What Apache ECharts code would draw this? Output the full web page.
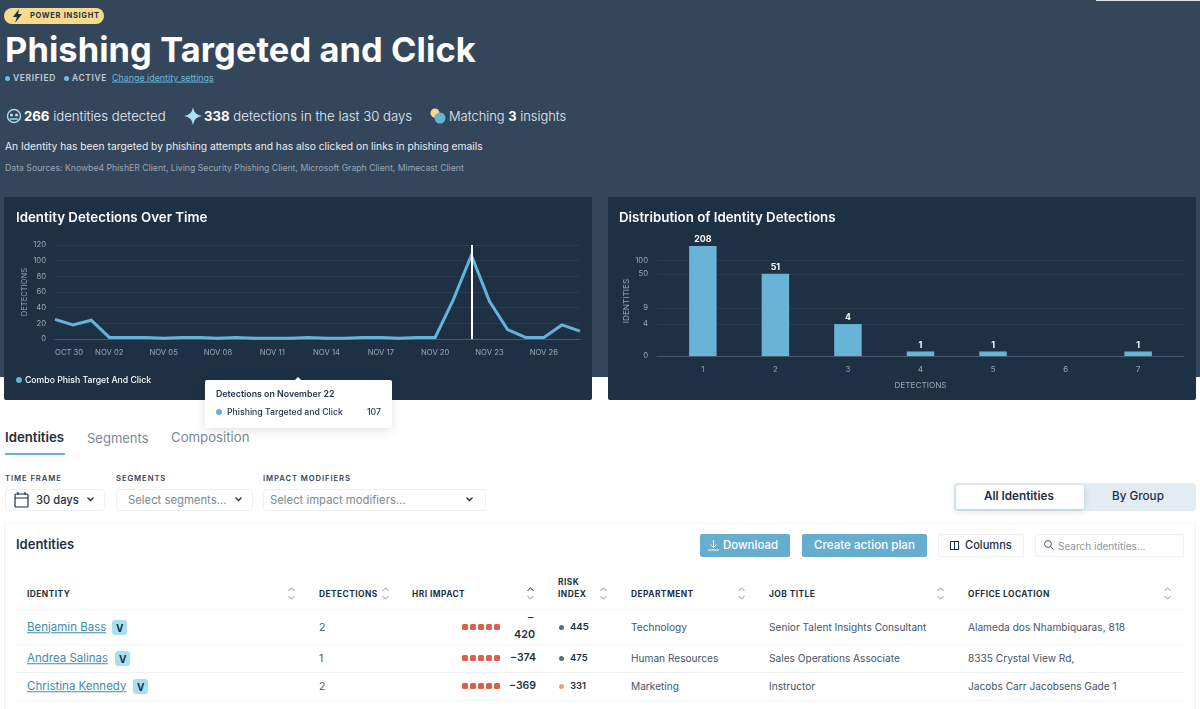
<!DOCTYPE html>
<html><head><meta charset="utf-8">
<script src="https://cdn.jsdelivr.net/npm/echarts@6/dist/echarts.min.js"></script>
<style>
html,body{margin:0;padding:0;background:#fff;width:1200px;height:709px;overflow:hidden;font-family:Inter,Lato,sans-serif}
#page{position:relative;width:1200px;height:709px;overflow:hidden}
.t{position:absolute;white-space:nowrap;line-height:1;transform:translateY(-50%)}
.b{position:absolute;box-sizing:border-box}
#lineChart,#barChart{position:absolute;top:197px;width:588px;height:203px;background:#1e3044;border-radius:2px}
#lineChart{left:4px;z-index:3}#barChart{left:608px;z-index:2}
svg{position:absolute;overflow:visible}
</style></head><body><div id="page"></div>
<script>
const dates=["OCT 30","OCT 31","NOV 01","NOV 02","NOV 03","NOV 04","NOV 05","NOV 06","NOV 07","NOV 08","NOV 09","NOV 10","NOV 11","NOV 12","NOV 13","NOV 14","NOV 15","NOV 16","NOV 17","NOV 18","NOV 19","NOV 20","NOV 21","NOV 22","NOV 23","NOV 24","NOV 25","NOV 26","NOV 27","NOV 28"];
const detectionsOverTime=[25,18,24,2,2,2,1,2,2,1,2,1,1,1,2,1,1,2,2,1,2,2,50,107,48,12,2,2,18,10];
const yTicksLine=[0,20,40,60,80,100,120];
const distributionBuckets=[1,2,3,4,5,6,7];
const distributionIdentities=[208,51,4,1,1,null,1];
const yTicksBar=[4,9,50,100];
const rowNames=["Benjamin Bass","Andrea Salinas","Christina Kennedy"];
const rowDetections=["2","1","2"];
const rowHri=["420","−374","−369"];
const rowRisk=["445","475","331"];
const rowRiskColors=["#5b6b7b","#5b6b7b","#e0a878"];
const rowDept=["Technology","Human Resources","Marketing"];
const rowTitle=["Senior Talent Insights Consultant","Sales Operations Associate","Instructor"];
const rowOffice=["Alameda dos Nhambiquaras, 818","8335 Crystal View Rd,","Jacobs Carr Jacobsens Gade 1"];

const page=document.getElementById('page');
function box(x,y,w,h,css){const d=document.createElement('div');d.className='b';d.style.cssText=`left:${x}px;top:${y}px;width:${w}px;height:${h}px;`+(css||'');page.appendChild(d);return d;}
function txt(x,y,s,css){const d=document.createElement('div');d.className='t';d.style.cssText=`left:${x}px;top:${y}px;`+(css||'');d.innerHTML=s;page.appendChild(d);return d;}
function svg(x,y,w,h,inner){const d=document.createElement('div');d.style.cssText=`position:absolute;left:${x}px;top:${y}px;width:${w}px;height:${h}px`;d.innerHTML=`<svg width="${w}" height="${h}" viewBox="0 0 ${w} ${h}">${inner}</svg>`;page.appendChild(d);}
function dot(x,y,r,c){box(x-r,y-r,2*r,2*r,`border-radius:50%;background:${c}`);}

// header band
box(0,0,1200,377,'background:linear-gradient(#34465a,#33455a)');
box(1096,0,104,1,'background:#dfe5ea');
box(4,8,100,16,'background:#f8da8c;border-radius:8px');
svg(11,9,12,14,'<path d="M8 0 L2 8 H6 L4 14 L11 5 H7 Z" fill="#1e3044"/>');
txt(30,16,'POWER INSIGHT','font-size:7.5px;font-weight:700;letter-spacing:.7px;color:#1e3044');
txt(5,50,'Phishing Targeted and Click','font-size:34.4px;font-weight:700;color:#fff;letter-spacing:.1px');
dot(7,78,2.5,'#6cbfe2');txt(13,78,'VERIFIED','font-size:8.4px;font-weight:600;letter-spacing:.7px;color:#c5ced6');
dot(66,78,2.5,'#6cbfe2');txt(72,78,'ACTIVE','font-size:8.4px;font-weight:600;letter-spacing:.7px;color:#c5ced6');
txt(112,78,'Change identity settings','font-size:8.9px;color:#6cb7d8;text-decoration:underline');
svg(6,108,16,16,'<circle cx="8" cy="8" r="6.5" fill="none" stroke="#a9e0f5" stroke-width="1.4"/><circle cx="5.5" cy="7" r="1.6" fill="#a9e0f5"/><circle cx="10.5" cy="7" r="1.6" fill="#a9e0f5"/><path d="M4 11 H12" stroke="#a9e0f5" stroke-width="1.4"/>');
txt(24,116.5,'<b style="font-weight:700;color:#fff">266</b> identities detected','font-size:13.2px;font-weight:300;color:#e8edf1');
svg(184,107,18,18,'<path d="M9 0 Q10 8 18 9 Q10 10 9 18 Q8 10 0 9 Q8 8 9 0Z" fill="#a9e0f5"/>');
txt(204,116.5,'<b style="font-weight:700;color:#fff">338</b> detections in the last 30 days','font-size:13.2px;font-weight:300;color:#e8edf1');
svg(430,108,17,16,'<circle cx="5" cy="5" r="4.5" fill="#f8da8c"/><circle cx="10" cy="10" r="5.5" fill="#65b3d6"/>');
txt(449,116.5,'Matching <b style="font-weight:700;color:#fff">3</b> insights','font-size:12.9px;font-weight:300;color:#e8edf1');
txt(5,146,'An Identity has been targeted by phishing attempts and has also clicked on links in phishing emails','font-size:10.28px;color:#e8edf1');
txt(5,168,'Data Sources: Knowbe4 PhishER Client, Living Security Phishing Client, Microsoft Graph Client, Mimecast Client','font-size:8.7px;color:#9aa6b2');

// tabs
txt(5,437.5,'Identities','font-size:13.2px;font-weight:600;color:#1e3044');
txt(87,437.5,'Segments','font-size:13px;color:#7d8994');
txt(171,437.5,'Composition','font-size:13.2px;color:#7d8994');
box(5,453,60,2,'background:#65b3d6');

// filters
const lab='font-size:7.7px;font-weight:600;letter-spacing:.9px;color:#34465a';
txt(5,478.5,'TIME FRAME',lab);txt(116,478.5,'SEGMENTS',lab);txt(263,478.5,'IMPACT MODIFIERS',lab);
const fb='border:1px solid #eef0f2;border-radius:3px;background:#fff';
box(5,489,100,22,fb);box(116,489,137,22,fb);box(263,489,223,22,fb);
svg(14,491,15,17,'<rect x="1" y="3" width="13" height="13" rx="1" fill="none" stroke="#1e3044" stroke-width="1.2"/><path d="M1 7 H14 M4 1 V4 M11 1 V4" stroke="#1e3044" stroke-width="1.2"/>');
txt(36,500.5,'30 days','font-size:11.2px;font-weight:500;color:#1e3044');
txt(128,500.5,'Select segments...','font-size:11.3px;color:#7d8994');
txt(270,500.5,'Select impact modifiers...','font-size:11.3px;color:#7d8994');
[90,238,469].forEach(x=>svg(x-3,497,7,5,'<path d="M.5 .5 L3.5 3.5 L6.5 .5" fill="none" stroke="#1e3044" stroke-width="1.3"/>'));

// toggle
box(954,483,242,28,'background:#e2ecf2;border-radius:3px');
box(956,485,128,24,'background:#fff;border-radius:2px;box-shadow:0 2px 6px rgba(30,48,68,.18)');
txt(984,496.5,'All Identities','font-size:11.7px;font-weight:600;color:#1e3044');
txt(1112,496.5,'By Group','font-size:11.7px;font-weight:500;color:#1e3044');

// table card
box(4,523,1192,200,'border:1px solid #f0f2f4;border-radius:3px;background:#fff');
txt(16,543.5,'Identities','font-size:13px;font-weight:600;color:#1e3044');
box(700,534,90,23,'background:#66aecf;border-radius:2px');
svg(708,540,11,11,'<path d="M5.5 0 V7 M2.5 4.5 L5.5 7.5 L8.5 4.5 M0 10 H11" fill="none" stroke="#fff" stroke-width="1"/>');
txt(723,545.5,'Download','font-size:11.5px;font-weight:500;color:#fff');
box(802,534,125,23,'background:#66aecf;border-radius:2px');
txt(814,545.5,'Create action plan','font-size:11.6px;font-weight:500;color:#fff');
box(938,534,86,23,'border:1px solid #eef0f2;border-radius:2px');
svg(950,541,9,9,'<rect x=".5" y=".5" width="8" height="8" fill="none" stroke="#1e3044"/><path d="M4.5 0 V9" stroke="#1e3044"/>');
txt(965,545.5,'Columns','font-size:11.1px;font-weight:500;color:#1e3044');
box(1035,534,149,23,'border:1px solid #eef0f2;border-radius:2px');
svg(1044,540,10,10,'<circle cx="4" cy="4" r="3.4" fill="none" stroke="#46566a"/><path d="M6.5 6.5 L9.5 9.5" stroke="#46566a"/>');
txt(1058,546,'Search identities...','font-size:10px;color:#8a95a0');

const th='font-size:8.4px;font-weight:700;letter-spacing:.45px;color:#1e3044';
[[27,'IDENTITY',291],[319,'DETECTIONS',385],[412,'HRI IMPACT',530],[631,'DEPARTMENT',741],[769,'JOB TITLE',940],[968,'OFFICE LOCATION',1167]].forEach(([x,s,sx])=>{txt(x,593.5,s,th);sort(sx,s==='HRI IMPACT');});
txt(558,581.5,'RISK',th);txt(558,593.5,'INDEX',th);sort(603,false);
function sort(x,dark){const c1=dark?'#1e3044':'#8a95a0';svg(x-3,587,7,13,`<path d="M.5 4 L3.5 .8 L6.5 4" fill="none" stroke="${c1}" stroke-width="1"/><path d="M.5 9 L3.5 12.2 L6.5 9" fill="none" stroke="#8a95a0" stroke-width="1"/>`);}
[610,645,673,701].forEach(y=>box(16,y-1,1168,1,'background:#f0f2f4'));
const rowY=[627,658,686];
rowY.forEach((y,i)=>{
  txt(27,y+.5,rowNames[i],'font-size:11.5px;color:#3d8bad;text-decoration:underline;text-decoration-thickness:.5px');
  const vx=[112,115,133][i];
  box(vx,y-7,15,15,'background:#a9dff3;border-radius:3px');
  txt(vx+4,y+.5,'V','font-size:10px;font-weight:700;color:#1e3044');
  txt(319,y+.5,rowDetections[i],'font-size:10.5px;color:#46566a');
  for(let k=0;k<5;k++)box(462+8.1*k,y-3,5.8,6,'background:#dd5f4b;border-radius:1.5px');
  if(i===0){txt(528,618,'–','font-size:10.5px;font-weight:600;color:#1e3044');txt(514,635,rowHri[0],'font-size:10.8px;font-weight:600;color:#1e3044');}
  else txt(536,y,rowHri[i],'font-size:10.5px;font-weight:600;color:#1e3044;transform:translate(-100%,-50%)');
  dot(561,y,2.5,rowRiskColors[i]);
  txt(570,y,rowRisk[i],'font-size:9.5px;font-weight:600;color:#1e3044');
  txt(631,y,rowDept[i],'font-size:10.15px;color:#46566a');
  txt(769,y,rowTitle[i],'font-size:10.15px;color:#46566a');
  txt(968,y,rowOffice[i],'font-size:10.15px;color:#46566a');
});

// charts
const axisGrey='#9aa8b5',gridCol='#283a4d',baseCol='#4a5b6c',blue='#65b3d6';
const font='Inter,Lato,sans-serif';
function mk(id){const d=document.createElement('div');d.id=id;page.appendChild(d);return echarts.init(d);}
const lineChart=mk('lineChart'),barChart=mk('barChart');

lineChart.setOption({
  animation:false,textStyle:{fontFamily:font},
  title:{text:'Identity Detections Over Time',left:12,top:14,padding:0,textStyle:{color:'#fff',fontSize:13.3,fontWeight:600,fontFamily:font}},
  legend:{left:12,top:178.5,padding:0,itemWidth:6,itemHeight:6,icon:'circle',itemGap:4,textStyle:{color:'#fff',fontSize:8.7,fontWeight:500,padding:[0,0,0,-2]}},
  grid:{left:51,right:12,top:48,bottom:61},
  tooltip:{
    trigger:'axis',alwaysShowContent:true,transitionDuration:0,padding:0,borderWidth:0,backgroundColor:'#fff',
    extraCssText:'border-radius:2px;box-shadow:0 2px 10px rgba(30,48,68,.15);overflow:visible;',
    position:()=>[201,183],
    axisPointer:{type:'line',snap:true,label:{show:false},lineStyle:{color:'#fff',width:2,type:'solid'},z:5},
    formatter:p=>{const i=p[0].dataIndex;return `<div style="position:relative;width:187px;height:48px;font-family:${font};color:#1e3044">
      <div style="position:absolute;left:90px;top:-3px;width:0;height:0;border-left:3px solid transparent;border-right:3px solid transparent;border-bottom:3px solid #fff"></div>
      <div style="position:absolute;left:11px;top:9px;font-size:8.8px;font-weight:600;line-height:10px">Detections on November 22</div>
      <div style="position:absolute;left:11px;top:29px;width:6px;height:6px;border-radius:50%;background:${blue}"></div>
      <div style="position:absolute;left:22px;top:27px;font-size:8.7px;font-weight:500;line-height:10px">Phishing Targeted and Click</div>
      <div style="position:absolute;right:11px;top:27px;font-size:8.7px;font-weight:500;line-height:10px">${detectionsOverTime[i]}</div></div>`;}
  },
  xAxis:{type:'category',boundaryGap:false,data:dates,
    axisLine:{show:true,lineStyle:{color:baseCol}},axisTick:{show:false},splitLine:{show:false},
    axisLabel:{color:axisGrey,fontSize:7.7,margin:10,interval:2,alignMinLabel:'left'}},
  yAxis:{type:'value',min:0,max:120,interval:20,name:'DETECTIONS',nameLocation:'middle',nameGap:26,nameMoveOverlap:false,
    nameTextStyle:{color:axisGrey,fontSize:7.6},
    axisLine:{show:false},axisTick:{show:false},
    splitLine:{lineStyle:{color:gridCol,width:1}},
    axisLabel:{color:axisGrey,fontSize:7.7,margin:9}},
  series:[{name:'Combo Phish Target And Click',type:'line',data:detectionsOverTime,symbol:'none',
    lineStyle:{color:blue,width:3,join:'miter'},itemStyle:{color:blue},emphasis:{disabled:true}}]
});
lineChart.dispatchAction({type:'showTip',seriesIndex:0,dataIndex:23});

const logMin=0.795;
barChart.setOption({
  animation:false,textStyle:{fontFamily:font},
  title:{text:'Distribution of Identity Detections',left:11,top:14,padding:0,textStyle:{color:'#fff',fontSize:13.3,fontWeight:600,fontFamily:font}},
  grid:{left:49,right:12,top:49,bottom:44},
  xAxis:{type:'value',min:0.368,max:7.632,name:'DETECTIONS',nameLocation:'middle',nameGap:25.5,nameMoveOverlap:false,
    nameTextStyle:{color:axisGrey,fontSize:8.2},
    splitLine:{show:false},axisTick:{show:false},
    axisLine:{lineStyle:{color:baseCol}},
    axisLabel:{color:axisGrey,fontSize:7.8,margin:10,customValues:distributionBuckets,showMinLabel:true,showMaxLabel:true}},
  yAxis:{type:'log',logBase:10,min:logMin,max:208,name:'IDENTITIES',nameLocation:'middle',nameGap:26,nameMoveOverlap:false,
    nameTextStyle:{color:axisGrey,fontSize:8.2},
    axisLine:{show:false},
    axisTick:{show:false,customValues:[logMin].concat(yTicksBar)},
    splitLine:{lineStyle:{color:gridCol}},minorSplitLine:{show:false},
    axisLabel:{color:axisGrey,fontSize:7.7,margin:9,customValues:[logMin].concat(yTicksBar),
      formatter:v=>v<1?'0':String(Math.round(v))}},
  series:[{type:'custom',
    encode:{x:0,y:1},
    clip:false,
    data:distributionBuckets.map((b,i)=>[b,distributionIdentities[i]]).filter(d=>d[1]!==null),
    renderItem:(params,api)=>{
      const x=api.value(0),v=api.value(1);
      const top=api.coord([x,v]),base=api.coord([x,logMin]);
      const w=27.5;
      return {type:'group',children:[
        {type:'rect',shape:{x:top[0]-w/2,y:top[1],width:w,height:base[1]-top[1]},style:{fill:'#68b3d6'}},
        {type:'text',style:{x:top[0],y:top[1]-2,text:String(v),fill:'#fff',align:'center',verticalAlign:'bottom',font:`700 8.8px ${font}`}}
      ]};
    }}]
});
</script></body></html>
